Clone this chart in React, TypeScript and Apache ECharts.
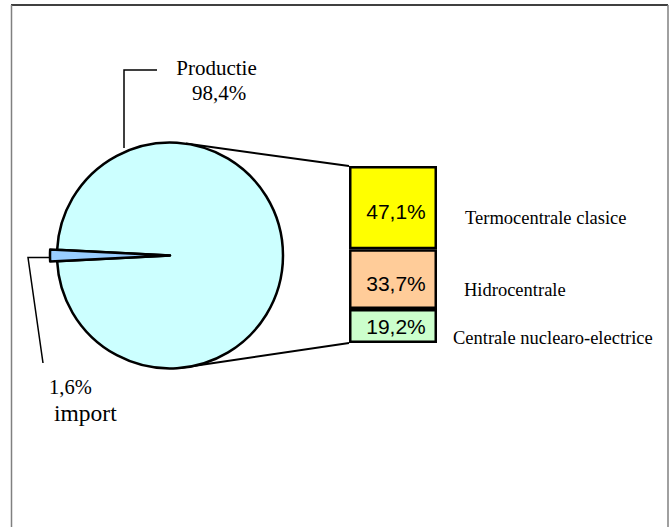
import React, { useEffect, useRef } from "react";
import * as echarts from "echarts";

// Pie data
const pieNames = ["import", "Productie"];
const pieValues = [1.6, 98.4];
const pieColors = ["#99ccff", "#ccffff"];

// Bar (production breakdown), listed bottom to top
const barNames = ["Centrale nuclearo-electrice", "Hidrocentrale", "Termocentrale clasice"];
const barValues = [19.2, 33.7, 47.1];
const barColors = ["#ccffcc", "#ffcc99", "#ffff00"];

const fmt = (v: number) => v.toFixed(1).replace(".", ",") + "%";

const SERIF = "'Liberation Serif', 'Times New Roman', serif";
const SANS = "'Liberation Sans', Arial, sans-serif";

export default function App() {
  const ref = useRef<HTMLDivElement>(null);
  useEffect(() => {
    if (!ref.current) return;
    const chart = echarts.init(ref.current, null, { renderer: "svg" });
    const cx = 170, cy = 255.5, r = 113;
    const importAngle = (pieValues[0] / (pieValues[0] + pieValues[1])) * 360;
    const startAngle = 180 + importAngle / 2;

    const barSeries = barValues.map((v, i) => ({
      type: "bar",
      name: barNames[i],
      stack: "total",
      data: [v],
      barWidth: "100%",
      itemStyle: { color: barColors[i], borderColor: "#000", borderWidth: 2.5 },
      label: {
        show: true,
        position: "inside",
        offset: [3, i === 0 ? 0 : 4],
        formatter: (p: any) => fmt(p.value),
        fontFamily: SANS,
        fontSize: 21,
        color: "#000",
      },
      silent: true,
    }));

    const nameY = [338, 290, 218];
    const nameX = [453, 464, 465];

    chart.setOption({
      animation: false,
      backgroundColor: "#ffffff",
      grid: { left: 349, top: 166, width: 88, height: 177 },
      xAxis: { type: "category", data: [""], show: false },
      yAxis: { type: "value", min: 0, max: 100, show: false },
      series: [
        {
          type: "pie",
          center: [cx, cy],
          radius: [0, r],
          startAngle,
          clockwise: true,
          silent: true,
          label: { show: false },
          labelLine: { show: false },
          data: pieNames.map((n, i) => ({
            name: n,
            value: pieValues[i],
            itemStyle:
              i === 0
                ? { color: "rgba(0,0,0,0)", borderWidth: 0 }
                : { color: pieColors[i], borderColor: "#000", borderWidth: 2.5 },
          })),
        },
        {
          type: "pie",
          center: [cx, cy],
          radius: [0, r + 7],
          startAngle,
          clockwise: true,
          silent: true,
          label: { show: false },
          labelLine: { show: false },
          data: pieNames.map((n, i) => ({
            name: n,
            value: pieValues[i],
            itemStyle:
              i === 0
                ? { color: pieColors[i], borderColor: "#000", borderWidth: 2.5 }
                : { color: "rgba(0,0,0,0)", borderWidth: 0 },
          })),
        },
        ...barSeries,
      ],
      graphic: [
        // frame
        { type: "line", shape: { x1: 11, y1: 5, x2: 668, y2: 5 }, style: { stroke: "#000", lineWidth: 1.5 } },
        { type: "line", shape: { x1: 11.5, y1: 5, x2: 11.5, y2: 540 }, style: { stroke: "#808080", lineWidth: 1.5 } },
        { type: "line", shape: { x1: 668, y1: 5, x2: 668, y2: 540 }, style: { stroke: "#808080", lineWidth: 1.5 } },
        // connector lines
        { type: "line", shape: { x1: 186, y1: 143.5, x2: 349, y2: 166 }, style: { stroke: "#000", lineWidth: 2 } },
        { type: "line", shape: { x1: 180, y1: 368, x2: 349, y2: 343 }, style: { stroke: "#000", lineWidth: 2 } },
        // leader lines
        { type: "polyline", shape: { points: [[124, 148], [124, 70], [157, 70]] }, style: { stroke: "#000", lineWidth: 1.5, fill: null } },
        { type: "polyline", shape: { points: [[60, 257.5], [28, 257.5], [43, 363]] }, style: { stroke: "#000", lineWidth: 1.5, fill: null } },
        // pie labels
        { type: "text", x: 216.5, y: 68, style: { text: pieNames[1], font: `21px ${SERIF}`, fill: "#000", textAlign: "center", textVerticalAlign: "middle" } },
        { type: "text", x: 219, y: 93, style: { text: fmt(pieValues[1]), font: `21px ${SERIF}`, fill: "#000", textAlign: "center", textVerticalAlign: "middle" } },
        { type: "text", x: 49, y: 387, style: { text: fmt(pieValues[0]), font: `20.5px ${SERIF}`, fill: "#000", textAlign: "left", textVerticalAlign: "middle" } },
        { type: "text", x: 54, y: 413, style: { text: pieNames[0], font: `23.5px ${SERIF}`, fill: "#000", textAlign: "left", textVerticalAlign: "middle" } },
        // bar category names
        ...barNames.map((n, i) => ({
          type: "text",
          x: nameX[i],
          y: nameY[i],
          style: { text: n, font: `18.5px ${SERIF}`, fill: "#000", textAlign: "left", textVerticalAlign: "middle" },
        })),
      ],
    });
    return () => chart.dispose();
  }, []);
  return <div ref={ref} style={{ position: "absolute", left: 0, top: 0, width: 671, height: 527 }} />;
}
